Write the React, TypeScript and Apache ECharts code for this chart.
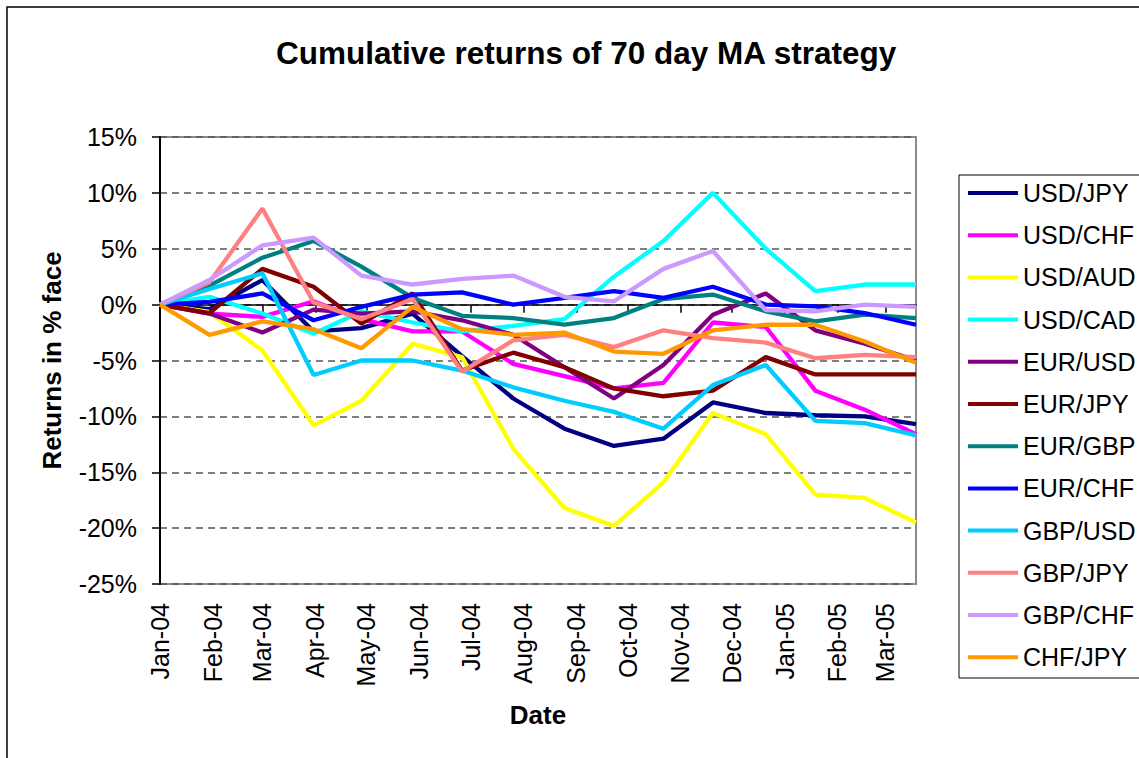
import React, { useEffect, useRef } from 'react';
import * as echarts from 'echarts';

// Observation dates (approx. monthly)
const dates = [
  '2004-01-01', '2004-01-30', '2004-03-01', '2004-03-31', '2004-04-28', '2004-05-28',
  '2004-06-26', '2004-07-26', '2004-08-25', '2004-09-23', '2004-10-22', '2004-11-20',
  '2004-12-21', '2005-01-19', '2005-02-17', '2005-03-19',
];

// Axis tick dates and labels
const tickDates = [
  '2004-01-01', '2004-02-01', '2004-03-01', '2004-04-01', '2004-05-01', '2004-06-01',
  '2004-07-01', '2004-08-01', '2004-09-01', '2004-10-01', '2004-11-01', '2004-12-01',
  '2005-01-01', '2005-02-01', '2005-03-01',
];
const tickLabels = [
  'Jan-04', 'Feb-04', 'Mar-04', 'Apr-04', 'May-04', 'Jun-04', 'Jul-04', 'Aug-04',
  'Sep-04', 'Oct-04', 'Nov-04', 'Dec-04', 'Jan-05', 'Feb-05', 'Mar-05',
];
const yTicks = [-25, -20, -15, -10, -5, 0, 5, 10, 15];

// Cumulative returns (%)
const usdJpy = [0, -0.4, 2.2, -2.4, -2.1, -0.8, -4.6, -8.4, -11.1, -12.65, -12.0, -8.75, -9.7, -9.9, -10.0, -10.7];
const usdChf = [0, -0.8, -1.1, 0.3, -1.3, -2.4, -2.4, -5.3, -6.4, -7.5, -7.0, -1.6, -2.0, -7.7, -9.4, -11.6];
const usdAud = [0, -0.65, -4.1, -10.8, -8.6, -3.5, -4.7, -12.9, -18.2, -19.8, -15.9, -9.7, -11.6, -17.0, -17.3, -19.5];
const usdCad = [0, 0.7, -0.8, -2.6, -0.6, -1.6, -2.4, -1.9, -1.3, 2.5, 5.7, 10.0, 5.0, 1.2, 1.8, 1.8];
const eurUsd = [0, -0.8, -2.5, -0.45, -0.8, -0.6, -1.4, -2.7, -5.6, -8.4, -5.4, -0.9, 1.0, -2.3, -3.5, -5.0];
const eurJpy = [0, -0.75, 3.2, 1.6, -1.7, 1.0, -5.9, -4.3, -5.6, -7.5, -8.2, -7.7, -4.7, -6.25, -6.25, -6.25];
const eurGbp = [0, 1.7, 4.2, 5.7, 3.4, 0.6, -1.0, -1.2, -1.8, -1.2, 0.5, 0.9, -0.6, -1.5, -0.9, -1.2];
const eurChf = [0, 0.25, 1.0, -1.4, -0.2, 0.9, 1.1, 0.0, 0.6, 1.2, 0.6, 1.6, 0.0, -0.15, -0.75, -1.8];
const gbpUsd = [0, 1.4, 2.8, -6.3, -5.0, -5.0, -5.9, -7.4, -8.6, -9.6, -11.1, -7.2, -5.4, -10.4, -10.6, -11.7];
const gbpJpy = [0, 2.0, 8.6, 0.2, -1.3, 0.5, -6.0, -3.2, -2.7, -3.8, -2.3, -3.0, -3.4, -4.8, -4.5, -4.7];
const gbpChf = [0, 2.2, 5.3, 6.0, 2.6, 1.8, 2.3, 2.6, 0.7, 0.3, 3.2, 4.8, -0.5, -0.6, 0.0, -0.2];
const chfJpy = [0, -2.7, -1.5, -2.2, -3.9, -0.2, -2.2, -2.7, -2.5, -4.2, -4.4, -2.3, -1.8, -1.8, -3.3, -5.2];

const seriesNames = [
  'USD/JPY', 'USD/CHF', 'USD/AUD', 'USD/CAD', 'EUR/USD', 'EUR/JPY',
  'EUR/GBP', 'EUR/CHF', 'GBP/USD', 'GBP/JPY', 'GBP/CHF', 'CHF/JPY',
];
const seriesValues = [usdJpy, usdChf, usdAud, usdCad, eurUsd, eurJpy, eurGbp, eurChf, gbpUsd, gbpJpy, gbpChf, chfJpy];
const seriesColors = [
  '#000080', '#FF00FF', '#FFFF00', '#00FFFF', '#800080', '#800000',
  '#008080', '#0000FF', '#00CCFF', '#FF8080', '#CC99FF', '#FF9900',
];

const FONT = '"Liberation Sans", Arial, sans-serif';

const toTs = (s: string) => {
  const [y, m, d] = s.split('-').map(Number);
  return Date.UTC(y, m - 1, d);
};

export default function App() {
  const ref = useRef<HTMLDivElement>(null);

  useEffect(() => {
    if (!ref.current) return;
    const chart = echarts.init(ref.current, null, { renderer: 'svg' });
    const tickTs = tickDates.map(toTs);
    const xMin = toTs(dates[0]);
    const xMax = toTs(dates[dates.length - 1]);
    const labelFor = (v: number) => {
      let best = -1;
      let bestD = Infinity;
      tickTs.forEach((t, i) => {
        const d = Math.abs(t - v);
        if (d < bestD) { bestD = d; best = i; }
      });
      return best >= 0 && bestD < 86400000 * 2 ? tickLabels[best] : '';
    };

    chart.setOption({
      animation: false,
      textStyle: { fontFamily: FONT },
      title: {
        text: 'Cumulative returns of 70 day MA strategy',
        left: 271,
        top: 32,
        textStyle: { fontFamily: FONT, fontSize: 31.5, fontWeight: 'bold', color: '#000' },
      },
      graphic: [
        {
          type: 'rect',
          shape: { x: 7, y: 7, width: 1200, height: 800 },
          style: { fill: 'none', stroke: '#000', lineWidth: 1.5 },
          silent: true,
        },
        {
          type: 'rect',
          shape: { x: 959, y: 175, width: 220, height: 503 },
          style: { fill: 'none', stroke: '#000', lineWidth: 1 },
          silent: true,
        },
      ],
      legend: {
        orient: 'vertical',
        left: 968,
        top: 179,
        itemWidth: 50,
        itemHeight: 4,
        itemGap: 14.2,
        icon: 'rect',
        selectedMode: false,
        padding: 0,
        textStyle: { fontFamily: FONT, fontSize: 25, color: '#000', lineHeight: 28 },
        data: seriesNames,
      },
      grid: {
        left: 160,
        right: 223,
        top: 137,
        bottom: 174,
        show: true,
        borderColor: '#8a8a8a',
        borderWidth: 2,
        backgroundColor: 'transparent',
        containLabel: false,
        outerBoundsMode: 'none',
      },
      xAxis: [
        {
          type: 'value',
          min: xMin,
          max: xMax,
          position: 'bottom',
          name: 'Date',
          nameLocation: 'middle',
          nameGap: 118,
          nameTextStyle: { fontFamily: FONT, fontSize: 26, fontWeight: 'bold', color: '#000' },
          axisLine: { show: false, onZero: false },
          axisTick: { show: false },
          splitLine: { show: false },
          axisLabel: {
            customValues: tickTs,
            rotate: 90,
            margin: 19,
            fontFamily: FONT,
            fontSize: 25,
            color: '#000',
            hideOverlap: false,
            showMinLabel: true,
            showMaxLabel: true,
            formatter: (v: number) => labelFor(v),
          },
        },
        {
          type: 'value',
          min: xMin,
          max: xMax,
          position: 'bottom',
          axisLine: { show: true, onZero: true, onZeroAxisIndex: 0, lineStyle: { color: '#000', width: 1.5 } },
          axisTick: { show: true, customValues: tickTs, length: 8, inside: false, lineStyle: { color: '#000', width: 1.5 } },
          axisLabel: { show: false },
          splitLine: { show: false },
        },
      ],
      yAxis: {
        type: 'value',
        min: yTicks[0],
        max: yTicks[yTicks.length - 1],
        interval: 5,
        name: 'Returns in % face',
        nameLocation: 'middle',
        nameRotate: 90,
        nameGap: 95,
        nameTextStyle: { fontFamily: FONT, fontSize: 26, fontWeight: 'bold', color: '#000' },
        axisLine: { show: true, lineStyle: { color: '#000', width: 2 } },
        axisTick: { show: true, length: 8, inside: false, lineStyle: { color: '#000', width: 1.5 } },
        axisLabel: {
          margin: 23,
          fontFamily: FONT,
          fontSize: 25,
          color: '#000',
          formatter: '{value}%',
        },
        splitLine: {
          show: true,
          lineStyle: { color: '#555', width: 1.5, type: [7, 5] },
        },
      },
      series: seriesNames.map((name, k) => ({
        name,
        type: 'line',
        xAxisIndex: 0,
        data: dates.map((d, i) => [toTs(d), seriesValues[k][i]]),
        showSymbol: false,
        symbol: 'none',
        color: seriesColors[k],
        lineStyle: { color: seriesColors[k], width: 4.3 },
      })),
    });

    return () => chart.dispose();
  }, []);

  return (
    <div
      ref={ref}
      style={{ position: 'absolute', left: 0, top: 0, width: 1139, height: 758, background: '#fff' }}
    />
  );
}
